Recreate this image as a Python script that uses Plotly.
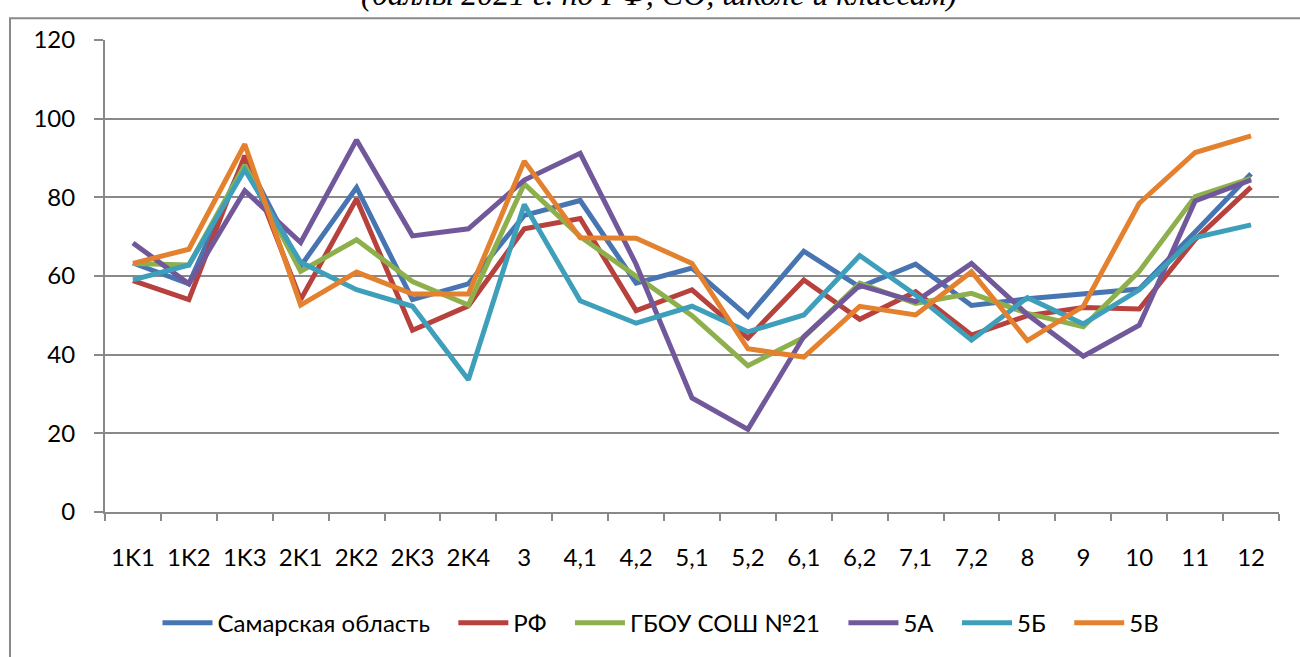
import plotly.graph_objects as go

categories = ['1K1', '1K2', '1K3', '2K1', '2K2', '2K3', '2K4', '3', '4,1', '4,2', '5,1',
              '5,2', '6,1', '6,2', '7,1', '7,2', '8', '9', '10', '11', '12']

samara = [63.3, 58, 90, 62.5, 82.5, 54, 58, 75.4, 79.2, 58.2, 62, 49.7, 66.3, 57.2, 63, 52.5, 54.2, 55.3, 56.7, 71.2, 86]
rf = [58.8, 54, 90.6, 54, 79.6, 46.2, 52.4, 72, 74.6, 51.2, 56.5, 44.2, 59, 49, 56, 45, 49.9, 52, 51.6, 69.3, 82.6]
school = [63.2, 62.8, 88.2, 61.2, 69.2, 58.6, 52.6, 83.4, 70, 60, 49.9, 37.2, 44.4, 58.2, 53, 55.6, 50.5, 47.1, 61.2, 80.2, 84.8]
cls_5a = [68.4, 58, 81.7, 68.5, 94.6, 70.2, 72, 84.4, 91.2, 63, 29, 21, 44.6, 57.6, 53.5, 63.2, 50.2, 39.6, 47.5, 79.1, 84.4]
cls_5b = [59, 62.8, 87, 63.5, 56.5, 52.3, 33.6, 78.2, 53.7, 48, 52.3, 45.8, 50.1, 65.2, 55.2, 43.7, 54.5, 47.8, 56.5, 69.8, 73]
cls_5v = [63.2, 66.8, 93.5, 52.6, 61, 55.4, 55.4, 89.2, 69.7, 69.6, 63.2, 41.5, 39.4, 52.3, 50.1, 61.1, 43.6, 52.3, 78.5, 91.4, 95.6]

series = [
    ('Самарская область', samara, '#4675B2'),
    ('РФ', rf, '#B7413D'),
    ('ГБОУ СОШ №21', school, '#8DB04D'),
    ('5А', cls_5a, '#71589A'),
    ('5Б', cls_5b, '#3E9FBA'),
    ('5В', cls_5v, '#E3812F'),
]

font_family = 'Lato, "Open Sans", sans-serif'
grid = '#898989'
pad = '\u00a0' * 3  # extra room between legend entries

fig = go.Figure()
for name, vals, color in series:
    fig.add_trace(go.Scatter(x=categories, y=vals, name=name + pad, mode='lines',
                             line=dict(color=color, width=5)))

# plot area in page pixels
L, R, T, B = 105, 1279, 40, 516
W, H = R - L, B - T

fig.update_layout(
    width=1300, height=657,
    margin=dict(l=L, r=1300 - R, t=T, b=657 - B),
    plot_bgcolor='white', paper_bgcolor='white',
    font=dict(family=font_family, size=24, color='black'),
    showlegend=True,
    legend=dict(orientation='h', x=(670 - L) / W, xanchor='center', y=(B - 628) / H, yanchor='middle',
                font=dict(size=24), tracegroupgap=0, itemwidth=50),
    xaxis=dict(type='category', range=[-0.5, len(categories) - 0.5],
               showline=True, linecolor=grid, linewidth=2, showgrid=False,
               ticks='outside', tickson='boundaries', ticklen=7, tickwidth=2, tickcolor=grid,
               ticklabelstandoff=23, fixedrange=True),
    yaxis=dict(range=[0, 120], dtick=20, showline=True, linecolor=grid, linewidth=2,
               showgrid=True, gridcolor=grid, gridwidth=2, zeroline=False,
               ticks='outside', ticklen=9, tickwidth=2, tickcolor=grid,
               ticklabelstandoff=14, fixedrange=True),
    shapes=[dict(type='rect', xref='paper', yref='paper',
                 x0=(10 - L) / W, x1=(1320 - L) / W, y0=(B - 680) / H, y1=(B - 18) / H,
                 line=dict(color=grid, width=2), fillcolor='rgba(0,0,0,0)', layer='below')],
    annotations=[dict(text='(баллы 2021 г. по РФ, СО, школе и классам)',
                      xref='paper', yref='paper', x=(659 - L) / W, y=(B - 14) / H,
                      xanchor='center', yanchor='bottom', showarrow=False,
                      font=dict(family='"Liberation Serif", serif', size=32, style='italic'))],
)

fig.write_html("out.html", config={'displayModeBar': False},
               post_script="document.body.style.margin='0';")
